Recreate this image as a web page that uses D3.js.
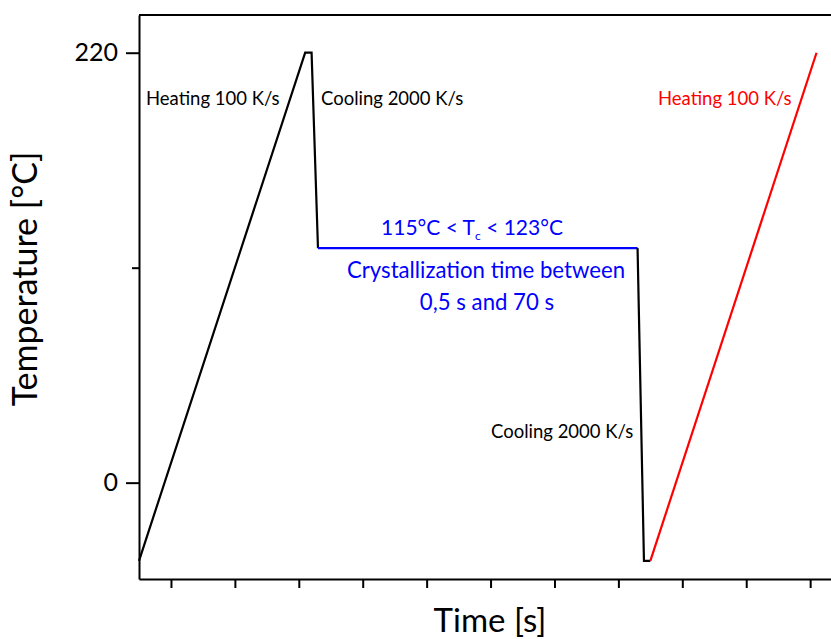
<!DOCTYPE html>
<html>
<head>
<meta charset="utf-8">
<script src="https://cdn.jsdelivr.net/npm/d3@7"></script>
<style>
  html, body { margin: 0; padding: 0; background: #fff; }
  svg { display: block; font-family: Lato, "Open Sans", sans-serif; }
</style>
</head>
<body>
<svg id="chart" width="831" height="639"></svg>
<script>
// Temperature program: heat, hold, quench, isothermal crystallization, quench, reheat
const firstStage = [            // time [s], temperature [°C]
  [0.0, -40], [2.6, 220], [2.7, 220], [2.8, 120]
];
const isothermStage = [
  [2.8, 120], [7.8, 120]
];
const quenchStage = [
  [7.8, 120], [7.9, -40], [8.0, -40]
];
const reheatStage = [
  [8.0, -40], [10.6, 220]
];
const yTicksMajor = [0, 220];
const yTicksMinor = [110];
const xTicks = [0.5, 1.5, 2.5, 3.5, 4.5, 5.5, 6.5, 7.5, 8.5, 9.5, 10.5];

const svg = d3.select("#chart");
const plotLeft = 139, plotTop = 15, plotBottom = 579, plotRight = 860;

const x = d3.scaleLinear().domain([0, 11.28]).range([plotLeft, plotRight]);
const y = d3.scaleLinear().domain([-49.3, 239.3]).range([plotBottom, plotTop]);

// frame: top edge
svg.append("line")
  .attr("x1", plotLeft).attr("x2", plotRight).attr("y1", plotTop).attr("y2", plotTop)
  .attr("stroke", "#000").attr("stroke-width", 2);

// y axis
const yAxis = svg.append("g").attr("transform", `translate(${plotLeft},0)`)
  .call(d3.axisLeft(y).tickValues(yTicksMajor).tickSize(13).tickSizeOuter(0).tickPadding(8));
yAxis.select(".domain").attr("stroke-width", 2);
yAxis.selectAll(".tick line").attr("stroke-width", 2);
yAxis.selectAll(".tick text").attr("font-size", 25).attr("font-family", "Lato").attr("fill", "#000");

const yMinor = svg.append("g").attr("transform", `translate(${plotLeft},0)`)
  .call(d3.axisLeft(y).tickValues(yTicksMinor).tickSize(7).tickFormat(""));
yMinor.select(".domain").remove();
yMinor.selectAll(".tick line").attr("stroke-width", 2);

// x axis
const xAxis = svg.append("g").attr("transform", `translate(0,${plotBottom})`)
  .call(d3.axisBottom(x).tickValues(xTicks).tickSize(9).tickSizeOuter(0).tickFormat(""));
xAxis.select(".domain").attr("stroke-width", 2);
xAxis.selectAll(".tick line").attr("stroke-width", 2);

// axis titles
svg.append("text")
  .attr("x", 490).attr("y", 632).attr("text-anchor", "middle")
  .attr("font-size", 33).text("Time [s]");
svg.append("text")
  .attr("transform", "translate(37,279) rotate(-90)").attr("text-anchor", "middle")
  .attr("font-size", 34).text("Temperature [°C]");

// temperature program
const line = d3.line().x(d => x(d[0])).y(d => y(d[1]));
const stages = [
  [firstStage, "#000"],
  [isothermStage, "#0000ff"],
  [quenchStage, "#000"],
  [reheatStage, "#ff0000"]
];
stages.forEach(([data, color]) => {
  svg.append("path").datum(data)
    .attr("d", line).attr("fill", "none")
    .attr("stroke", color).attr("stroke-width", 2.2)
    .attr("stroke-linejoin", "miter");
});

// annotations
const notes = [
  { text: "Heating 100 K/s", x: 146, y: 105, color: "#000", size: 18.5, anchor: "start" },
  { text: "Cooling 2000 K/s", x: 321, y: 105, color: "#000", size: 18.5, anchor: "start" },
  { text: "Heating 100 K/s", x: 658, y: 105, color: "#ff0000", size: 18.5, anchor: "start" },
  { text: "Cooling 2000 K/s", x: 491, y: 438, color: "#000", size: 18.5, anchor: "start" },
  { text: "Crystallization time between", x: 486, y: 278, color: "#0000ff", size: 22.2, anchor: "middle" },
  { text: "0,5 s and 70 s", x: 487, y: 310, color: "#0000ff", size: 22.2, anchor: "middle" }
];
notes.forEach(n => {
  svg.append("text").attr("x", n.x).attr("y", n.y)
    .attr("fill", n.color).attr("font-size", n.size)
    .attr("text-anchor", n.anchor).text(n.text);
});

// isothermal range label with subscript
const tc = svg.append("text").attr("x", 472).attr("y", 235)
  .attr("fill", "#0000ff").attr("font-size", 21).attr("text-anchor", "middle");
tc.append("tspan").text("115°C < T");
tc.append("tspan").attr("font-size", 12).attr("dy", 5).text("c");
tc.append("tspan").attr("dy", -5).text(" < 123°C");
</script>
</body>
</html>
